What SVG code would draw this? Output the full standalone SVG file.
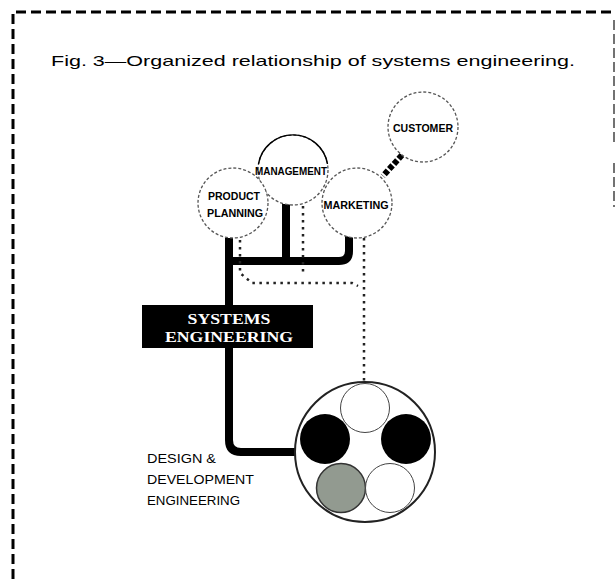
<svg xmlns="http://www.w3.org/2000/svg" width="615" height="579" viewBox="0 0 615 579">
<style>
.border{fill:none;stroke:#000;stroke-width:3;stroke-dasharray:10 5}
.node{fill:#fff;stroke:#555;stroke-width:1.3;stroke-dasharray:3 2}
.lbl{font-family:"Liberation Sans",Arial,sans-serif;font-weight:bold;font-size:10.5px;fill:#000;text-anchor:middle}
.thick{fill:none;stroke:#000;stroke-width:8;stroke-linejoin:round}
.dots{fill:none;stroke:#222;stroke-width:2.5;stroke-dasharray:2.5 4.5}
.serif{font-family:"Liberation Serif","Times New Roman",serif;font-weight:bold;font-size:14px;fill:#fff;text-anchor:middle}
.dd{font-family:"Liberation Sans",Arial,sans-serif;font-size:13.5px;fill:#000}
</style>
<rect width="615" height="579" fill="#fff"/>
<g id="border">
<path class="border" d="M13,579 V12 H615"/>
<path d="M614,20 V143 M614,163 V207" stroke="#444" stroke-width="1.5" stroke-dasharray="10 4" fill="none"/>
</g>
<text x="51" y="66" font-family="'Liberation Sans',Arial,sans-serif" font-size="15" textLength="524" lengthAdjust="spacingAndGlyphs" fill="#000">Fig. 3—Organized relationship  of systems engineering.</text>
<g id="connectors">
<path class="thick" d="M229,238 V440 Q229,452 241,452 H297"/>
<path class="thick" d="M229,261 H339 Q349,261 349,251 V236"/>
<path class="thick" d="M286,204 V261"/>
<path class="dots" d="M240,240 V273 L252,283 H352 L358,286"/>
<path class="dots" d="M303,206 V276"/>
<path class="dots" d="M364,238 V381"/>
<path d="M402,155 L383,176" stroke="#000" stroke-width="6" stroke-dasharray="5 2" fill="none"/>
</g>
<g id="management">
<circle class="node" cx="293" cy="170" r="35"/>
<path d="M258.5,164 A35,35 0 0 1 327.5,164" fill="none" stroke="#000" stroke-width="1.4"/>
</g>
<g id="customer">
<circle class="node" cx="423" cy="127" r="35"/>
<text class="lbl" x="423" y="132" textLength="60" lengthAdjust="spacingAndGlyphs">CUSTOMER</text>
</g>
<g id="product-planning">
<circle class="node" cx="233" cy="203" r="35"/>
<text class="lbl" x="234" y="200" textLength="52" lengthAdjust="spacingAndGlyphs">PRODUCT</text>
<text class="lbl" x="235" y="217" textLength="56" lengthAdjust="spacingAndGlyphs">PLANNING</text>
</g>
<g id="marketing">
<circle class="node" cx="357" cy="203" r="35"/>
<text class="lbl" x="356" y="209" textLength="65" lengthAdjust="spacingAndGlyphs">MARKETING</text>
</g>
<g id="management-label">
<text class="lbl" x="291" y="175" textLength="72" lengthAdjust="spacingAndGlyphs">MANAGEMENT</text>
</g>
<g id="systems-engineering">
<rect x="142" y="305" width="171" height="43" fill="#000"/>
<text class="serif" x="229" y="324" textLength="83" lengthAdjust="spacingAndGlyphs">SYSTEMS</text>
<text class="serif" x="229" y="342" textLength="128" lengthAdjust="spacingAndGlyphs">ENGINEERING</text>
</g>
<g id="design-development">
<text class="dd" x="147" y="463" textLength="69" lengthAdjust="spacingAndGlyphs">DESIGN &amp;</text>
<text class="dd" x="147" y="484" textLength="107" lengthAdjust="spacingAndGlyphs">DEVELOPMENT</text>
<text class="dd" x="147" y="505" textLength="93" lengthAdjust="spacingAndGlyphs">ENGINEERING</text>
<circle cx="365" cy="452" r="70" fill="#fff" stroke="#222" stroke-width="2"/>
<circle cx="365" cy="408" r="24.5" fill="#fff" stroke="#444" stroke-width="1"/>
<circle cx="325" cy="439" r="25" fill="#000"/>
<circle cx="406" cy="439" r="25" fill="#000"/>
<circle cx="341" cy="488" r="24.5" fill="#929a90" stroke="#333" stroke-width="1.5"/>
<circle cx="390" cy="488" r="24.5" fill="#fff" stroke="#444" stroke-width="1"/>
</g>
</svg>
